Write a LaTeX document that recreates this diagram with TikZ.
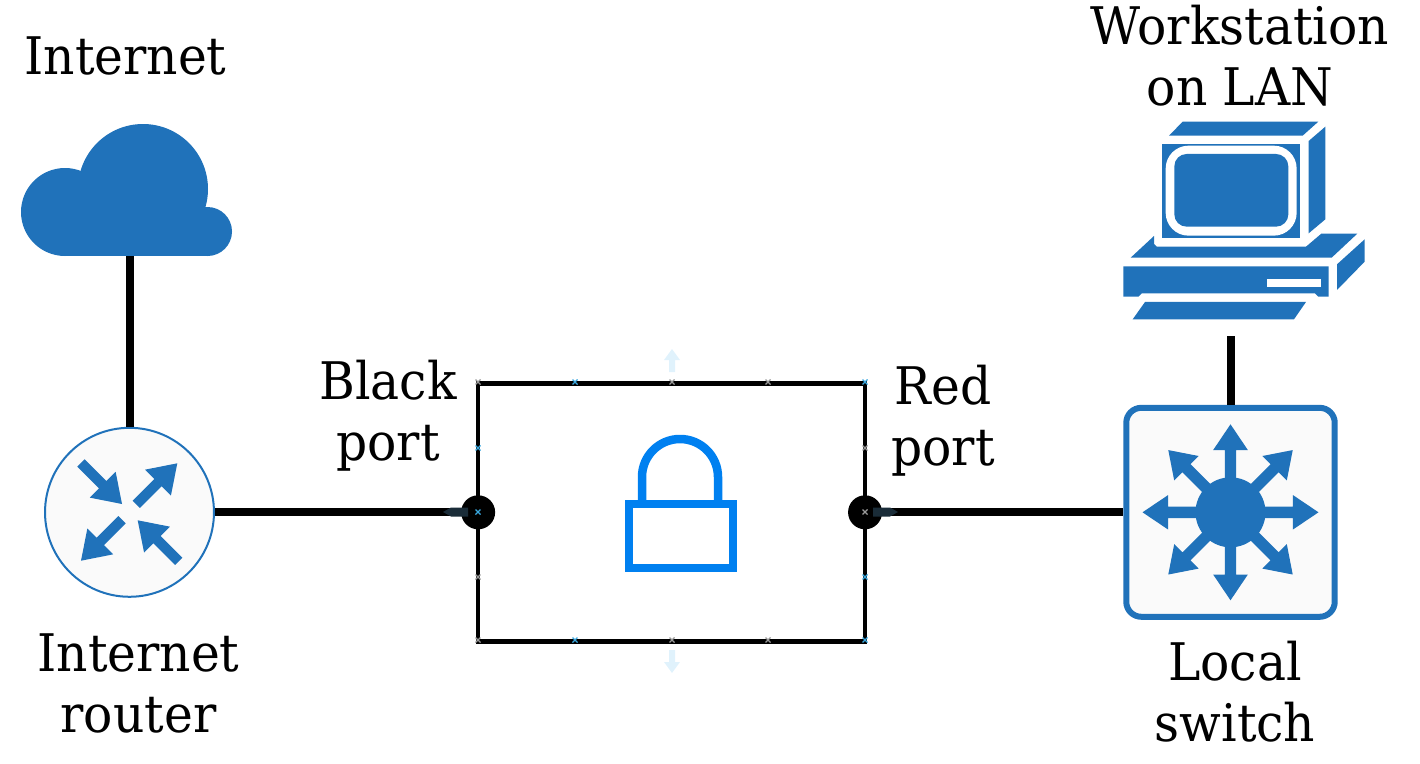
\documentclass[tikz,border=0pt]{standalone}
\usepackage{fontspec}
\setmainfont[FakeStretch=0.94]{DejaVu Serif}
\definecolor{iconblue}{HTML}{2072BA}
\definecolor{lockblue}{HTML}{0080F0}
\definecolor{iconback}{HTML}{FAFAFA}
\definecolor{markblue}{HTML}{3AA8E0}
\definecolor{markgray}{HTML}{9A9A9A}
\definecolor{ghostblue}{HTML}{E0F2FC}
\definecolor{ghostdark}{HTML}{1A2C38}
\tikzset{
  lab/.style={align=center, inner sep=0pt, font=\fontsize{29.5}{34.7}\selectfont},
  link/.style={line width=0.16cm},
  portdot/.style={circle, fill=black, inner sep=0pt, minimum size=0.68cm},
  routerbox/.style={circle, draw=iconblue, fill=iconback, line width=0.04cm, inner sep=0pt, minimum size=3.38cm},
  switchbox/.style={rectangle, rounded corners=0.3cm, draw=iconblue, fill=iconback, line width=0.12cm, inner sep=0pt, minimum width=4.17cm, minimum height=4.18cm},
  vpnbox/.style={rectangle, draw=black, line width=0.09cm, inner sep=0pt, outer sep=0pt, minimum width=7.74cm, minimum height=5.16cm},
  lockline/.style={draw=lockblue, line width=0.17cm}
}
\begin{document}
\begin{tikzpicture}[x=0.02cm, y=-0.02cm]
\useasboundingbox (0,0) rectangle (1420,764);

% The nodes that the connectors run between
\node [vpnbox] (vpn) at (671.6,512.3) {};
\node [routerbox] (router) at (129.5,512.3) {};
\node [switchbox] (switch) at (1230.5,512.3) {};
\node [portdot] (blackport) at (vpn.west) {};
\node [portdot] (redport) at (vpn.east) {};
\coordinate (cloudfoot) at (130,256);
\coordinate (pcfoot) at (1231,336);

% Connectors
\draw [link] (cloudfoot) -- (router.north -| cloudfoot);
\draw [link] (router.east) -- (blackport);
\draw [link] (redport) -- (switch.west);
\draw [link] (pcfoot) -- (switch.north -| pcfoot);

% Cloud
\fill [iconblue] (143,189) circle (65);
\fill [iconblue] (65,212) circle (44);
\fill [iconblue] (207.5,231.5) circle (24.5);
\fill [iconblue] (65,207) rectangle (207.5,256);

% Router arrows
\foreach \tip/\ang in {{122,504}/-45, {177.3,463.3}/45, {81,560.7}/225, {137.7,520.3}/135} {
  \fill [iconblue, shift={(\tip)}, rotate=\ang]
    (0,0) -- (-27.3,18.3) -- (-27.3,5.2) -- (-58,5.2) -- (-58,-5.2)
    -- (-27.3,-5.2) -- (-27.3,-18.3) -- cycle;
}

% Switch arrows
\fill [iconblue] (switch.center) circle (35);
\foreach \ang in {0,45,...,315} {
  \fill [iconblue, shift={(switch.center)}, rotate=\ang]
    (88,0) -- (62.3,17.3) -- (62.3,5.7) -- (30,5.7) -- (30,-5.7)
    -- (62.3,-5.7) -- (62.3,-17.3) -- cycle;
}

% Workstation, in the units of a 3x crop
\begin{scope}[shift={(1100,110)}, x=0.02cm/3, y=-0.02cm/3]
\fill [iconblue] (248,35) -- (655,35) -- (608,77) -- (207,77) -- cycle;
\fill [iconblue] (676,50) -- (676,328) -- (626,370) -- (626,93) -- cycle;
\fill [iconblue] (187,103) rectangle (600,385);
\fill [white, rounded corners=13pt] (197,107) rectangle (590,377);
\fill [iconblue, rounded corners=7pt] (223,132) rectangle (565,350);
\fill [iconblue] (162,378) -- (162,402) -- (170,410) -- (618,410) -- (664,371)
  -- (772,371) -- (695,443) -- (92,443) -- cycle;
\fill [iconblue] (70,469) -- (686,469) -- (686,560) -- (655,560) -- (645,550)
  -- (125,550) -- (115,560) -- (70,560) -- cycle;
\fill [white] (500,507) rectangle (663,532);
\fill [iconblue] (794,388) -- (794,455) -- (711,540) -- (711,463) -- cycle;
\fill [iconblue] (135,576) -- (618,576) -- (582,628) -- (98,628) -- cycle;
\end{scope}

% Lock
\draw [lockline] (629,504) rectangle (733,568);
\draw [lockline] (642,504) -- (642,477) arc (180:360:38) -- (718,504);

% Handles left on the box
\foreach \hx/\hy/\col in {
  478/382/markgray, 575/382/markblue, 672/382/markgray, 768/382/markgray, 865/382/markblue,
  478/448/markblue, 865/448/markgray, 478/577/markgray, 865/577/markblue,
  478/640/markgray, 575/640/markblue, 672/640/markgray, 768/640/markgray, 865/640/markblue,
  478/512/markblue, 865/512/markgray} {
  \draw [\col, line width=0.025cm] (\hx-2.5,\hy-2.5) -- (\hx+2.5,\hy+2.5) (\hx-2.5,\hy+2.5) -- (\hx+2.5,\hy-2.5);
}
\fill [ghostblue] (672,349) -- (680,360) -- (675,360) -- (675,372) -- (669,372) -- (669,360) -- (664,360) -- cycle;
\fill [ghostblue] (672,673) -- (680,662) -- (675,662) -- (675,650) -- (669,650) -- (669,662) -- (664,662) -- cycle;
\fill [ghostdark] (443,512) -- (451,507.5) -- (468,507.5) -- (468,516.5) -- (451,516.5) -- cycle;
\fill [ghostdark] (898,512) -- (890,507.5) -- (873,507.5) -- (873,516.5) -- (890,516.5) -- cycle;

% Labels
\node [lab] (internetlab) at (125.5,56) {Internet};
\node [lab] (stationlab) at (1240,56) {Workstation\\on LAN};
\node [lab] (blacklab) at (388,416) {Black\\port};
\node [lab] (redlab) at (943,420.5) {Red\\port};
\node [lab] (routerlab) at (138.5,683) {Internet\\router};
\node [lab] (switchlab) at (1235,692) {Local\\switch};
\end{tikzpicture}
\end{document}
